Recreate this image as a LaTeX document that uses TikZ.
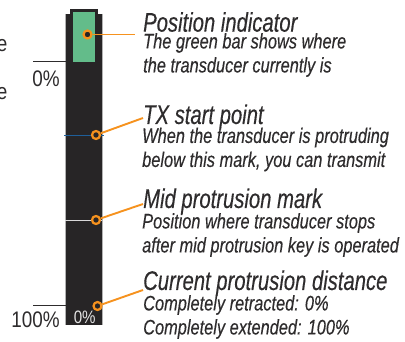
\documentclass[tikz,border=0pt]{standalone}
\usepackage{fontspec}
\setmainfont{Liberation Sans}
\newfontfamily\condtitle[FakeStretch=0.75,FakeBold=0.25]{Liberation Sans Italic}
\newfontfamily\condbody[FakeStretch=0.78,FakeBold=0.25]{Liberation Sans Italic}
\newfontfamily\condup[FakeStretch=0.84]{Liberation Sans}
\definecolor{barblack}{HTML}{272526}
\definecolor{barmark}{HTML}{63BC8A}
\definecolor{callout}{HTML}{F6921E}
\definecolor{inktext}{HTML}{2E2C2D}
\definecolor{txmark}{HTML}{1F5F99}
\tikzset{
  titletext/.style={anchor=west,inner sep=0pt,text=inktext,font=\condtitle\fontsize{27}{27}\selectfont},
  bodytext/.style={anchor=west,inner sep=0pt,text=inktext,align=left,font=\condbody\fontsize{21}{24}\selectfont},
  scaletext/.style={anchor=east,inner sep=0pt,text=inktext,font=\condup\fontsize{22.5}{22.5}\selectfont},
  dot/.style={circle,draw=callout,fill=barblack,line width=2.2pt,minimum size=8pt,inner sep=0pt},
  lead/.style={draw=callout,line width=1.9pt},
  tick/.style={draw=inktext,line width=0.8pt}
}
\begin{document}
\begin{tikzpicture}[x=1pt,y=-1pt]
\useasboundingbox (0,0) rectangle (405,342);
\fill[white] (0,0) rectangle (405,342);
% bar
\fill[barblack] (70,9) rectangle (97.5,15);
\fill[barblack] (65.5,14) rectangle (102,325);
\draw[gray!60,line width=0.7pt] (102.5,14) -- (102.5,325);
\draw[gray!60,line width=0.5pt] (65.3,14) -- (65.3,325);
\fill[barmark] (73,11.7) rectangle (95,62);
% marks
\draw[draw=black!15,line width=0.8pt] (65,220) -- (102,220);
\draw[draw=txmark,line width=0.7pt] (64,135.5) -- (104,135.5);
\coordinate (t0a) at (33,61); \coordinate (t0b) at (66,61);
\coordinate (t1a) at (33,305); \coordinate (t1b) at (66,305);
\draw[tick] (t0a) -- (t0b);
\draw[tick] (t1a) -- (t1b);
% scale labels
\node[scaletext] (zero) at (60,79) {0\%};
\node[scaletext] (hundred) at (60,320) {100\%};
\node[anchor=center,inner sep=0pt,text=black!10,font=\condup\fontsize{18}{18}\selectfont] (cur) at (84.7,317.5) {0\%};
\node[scaletext] (e1) at (7.5,46) {e};
\node[scaletext] (e2) at (7.5,94) {e};
% dots
\node[dot] (d1) at (87.5,34.5) {};
\node[dot] (d2) at (96,135) {};
\node[dot] (d3) at (96,220) {};
\node[dot] (d4) at (97.5,306) {};
% ends
\coordinate (c1) at (135,34.5);
\coordinate (c2) at (143,118);
\coordinate (c3) at (143,204);
\coordinate (c4) at (143,290);
\draw[lead] (d1) -- (c1);
\draw[lead] (d2) -- (c2);
\draw[lead] (d3) -- (c3);
\draw[lead] (d4) -- (c4);
% texts
\node[titletext] (h1) at (143,22) {Position indicator};
\node[bodytext] (b1) at (143,55) {The green bar shows where\\the transducer currently is};
\node[titletext] (h2) at (143,117) {TX start point};
\node[bodytext] (b2) at (142,149.5) {When the transducer is protruding\\below this mark, you can transmit};
\node[titletext] (h3) at (143,201) {Mid protrusion mark};
\node[bodytext] (b3) at (142,235) {Position where transducer stops\\after mid protrusion key is operated};
\node[titletext] (h4) at (143,283) {Current protrusion distance};
\node[bodytext] (b4) at (143,317) {Completely retracted: 0\%\\Completely extended: 100\%};
\end{tikzpicture}
\end{document}
